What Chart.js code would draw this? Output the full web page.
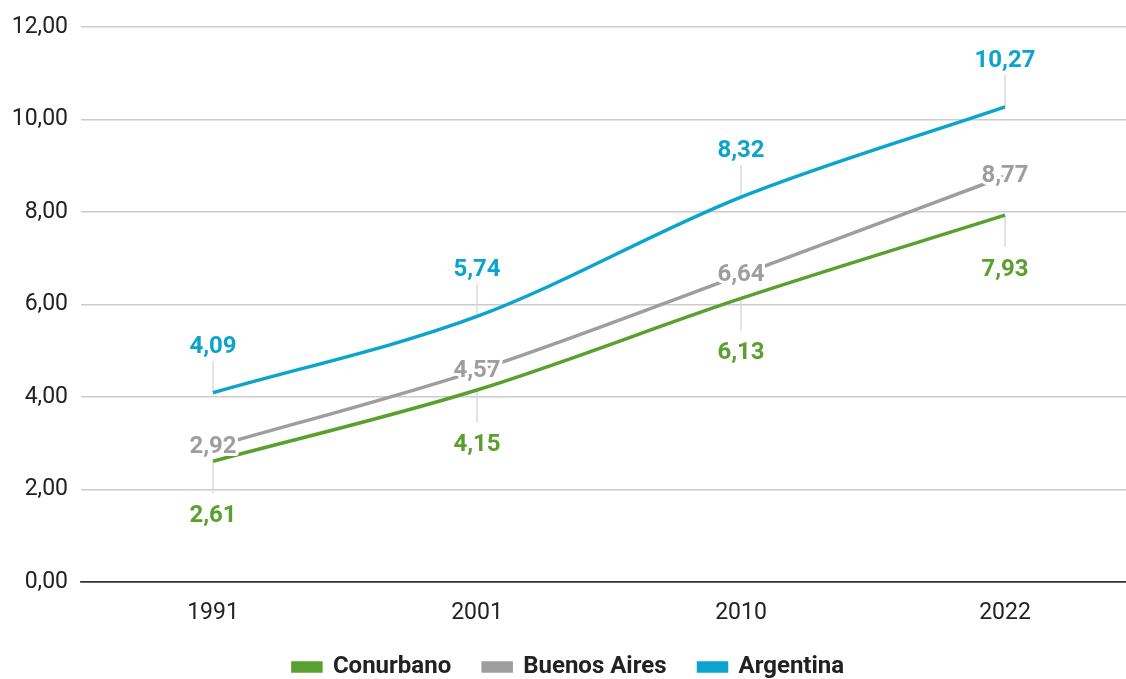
<!DOCTYPE html>
<html>
<head>
<meta charset="utf-8">
<script src="https://cdn.jsdelivr.net/npm/chart.js@4"></script>
<style>
  html, body { margin: 0; padding: 0; background: #fff; overflow: hidden; }
  #wrap { position: absolute; left: 0; top: 0; width: 1140px; height: 702px; }
</style>
</head>
<body>
<div id="wrap"><canvas id="myChart"></canvas></div>
<script>
const years = ['1991', '2001', '2010', '2022'];
const conurbano = [2.61, 4.15, 6.13, 7.93];
const buenosAires = [2.92, 4.57, 6.64, 8.77];
const argentina = [4.09, 5.74, 8.32, 10.27];
const yTicks = [0, 2, 4, 6, 8, 10, 12];

const green = '#5aa02e';
const gray = '#9e9e9e';
const blue = '#0aa4cc';

// where each series puts its value label
const placement = ['below', 'center', 'above'];

const fmt = v => v.toFixed(2).replace('.', ',');

const valueLabels = {
  id: 'valueLabels',
  afterLayout(chart) {
    // pull the legend a bit closer to the axis
    chart.legend.top -= 13;
    chart.legend.bottom -= 13;
  },
  beforeDatasetsDraw(chart) {
    const ctx = chart.ctx;
    ctx.save();
    ctx.strokeStyle = '#dadada';
    ctx.lineWidth = 1.5;
    chart.data.datasets.forEach((ds, i) => {
      const pos = placement[i];
      if (pos === 'center') return;
      chart.getDatasetMeta(i).data.forEach(pt => {
        ctx.beginPath();
        ctx.moveTo(pt.x, pt.y);
        ctx.lineTo(pt.x, pos === 'above' ? pt.y - 32 : pt.y + 32);
        ctx.stroke();
      });
    });
    ctx.restore();
  },
  afterDatasetsDraw(chart) {
    const ctx = chart.ctx;
    ctx.save();
    ctx.font = 'bold 24px Roboto';
    ctx.textAlign = 'center';
    ctx.textBaseline = 'middle';
    ctx.lineJoin = 'round';
    chart.data.datasets.forEach((ds, i) => {
      const pos = placement[i];
      chart.getDatasetMeta(i).data.forEach((pt, j) => {
        let y = pt.y;
        if (pos === 'above') y -= 46;
        if (pos === 'below') y += 55;
        const txt = fmt(ds.data[j]);
        ctx.strokeStyle = '#fff';
        ctx.lineWidth = 6;
        ctx.strokeText(txt, pt.x, y);
        ctx.fillStyle = ds.borderColor;
        ctx.fillText(txt, pt.x, y);
      });
    });
    ctx.restore();
  }
};

new Chart(document.getElementById('myChart'), {
  type: 'line',
  data: {
    labels: years,
    datasets: [
      { label: 'Conurbano', data: conurbano, borderColor: green, backgroundColor: green },
      { label: 'Buenos Aires', data: buenosAires, borderColor: gray, backgroundColor: gray },
      { label: 'Argentina', data: argentina, borderColor: blue, backgroundColor: blue }
    ]
  },
  options: {
    responsive: true,
    maintainAspectRatio: false,
    animation: false,
    layout: { padding: { top: 21, right: 3, left: 0, bottom: 0 } },
    elements: {
      line: { borderWidth: 3.5, cubicInterpolationMode: 'monotone' },
      point: { radius: 0 }
    },
    plugins: {
      tooltip: { enabled: false },
      legend: {
        position: 'bottom',
        labels: {
          boxWidth: 28,
          boxHeight: 8,
          padding: 32,
          color: '#222',
          font: { family: 'Roboto', weight: 'bold', size: 24 }
        }
      }
    },
    scales: {
      x: {
        offset: true,
        grid: { display: false },
        border: { display: true, color: '#333', width: 1.5 },
        ticks: { color: '#222', padding: 12, font: { family: 'Roboto', size: 23, lineHeight: 0.9565 } }
      },
      y: {
        min: 0,
        max: 12,
        afterFit: s => { s.width = 81; },
        afterBuildTicks: s => { s.ticks = yTicks.map(v => ({ value: v })); },
        border: { display: false },
        grid: {
          drawTicks: false,
          lineWidth: 1.5,
          color: c => c.tick && c.tick.value === 0 ? '#333' : '#cccccc'
        },
        ticks: {
          color: '#222',
          padding: 13,
          font: { family: 'Roboto', size: 23 },
          callback: v => fmt(v)
        }
      }
    }
  },
  plugins: [valueLabels]
});
</script>
</body>
</html>
